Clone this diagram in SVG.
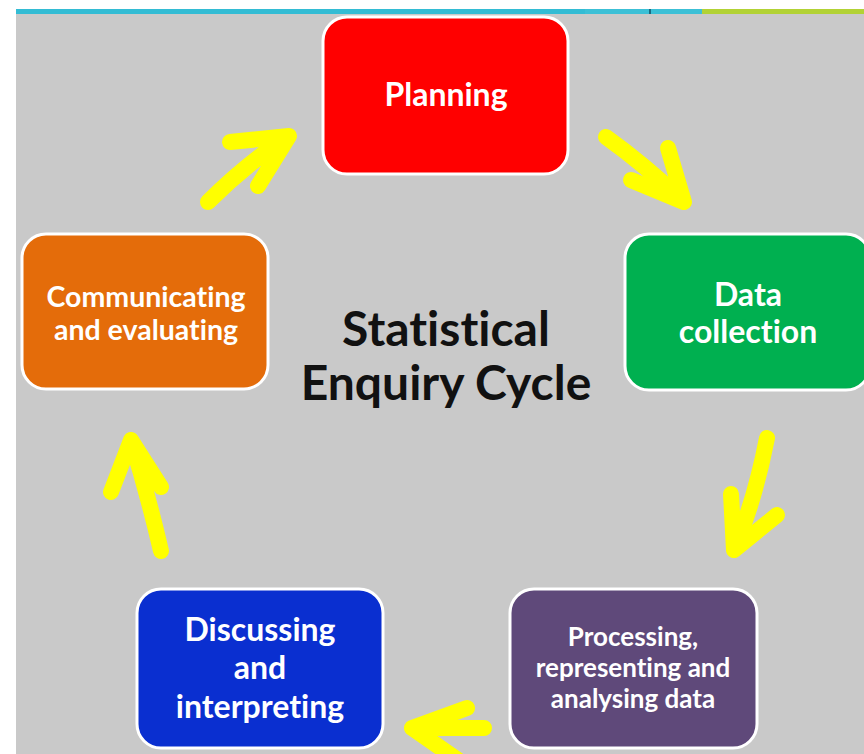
<svg xmlns="http://www.w3.org/2000/svg" width="864" height="754" viewBox="0 0 864 754">
<style>
.box{stroke:#ffffff;stroke-width:3}
.lbl{font-family:Lato,"Open Sans","Liberation Sans",sans-serif;font-weight:bold;fill:#ffffff;text-anchor:middle;font-variant-ligatures:none}
.title{font-family:Lato,"Open Sans","Liberation Sans",sans-serif;font-weight:bold;fill:#111111;text-anchor:middle;font-size:48px;font-variant-ligatures:none}
.arr{fill:none;stroke:#ffff00;stroke-width:16;stroke-linecap:round;stroke-linejoin:round}
</style>
<rect x="0" y="0" width="864" height="754" fill="#ffffff"/>
<rect x="16" y="13" width="848" height="741" fill="#c9c9c9"/>
<rect x="16" y="9" width="690" height="5" fill="#33bcd4"/>
<rect x="585" y="9" width="117" height="5" fill="#3cc0d6"/>
<rect x="702" y="9" width="162" height="5" fill="#b2d235"/>
<rect x="649" y="9" width="2" height="5" fill="#1a6a80"/>
<text class="title" x="446" y="346">Statistical</text>
<text class="title" x="446" y="400">Enquiry Cycle</text>
<g id="connectors">
<path class="arr" d="M208 202 Q245 165 287 137 M230 142 L289 136 L258 186"/>
<path class="arr" d="M606 137 Q645 165 684 202 M668 148 L684 202 L631 180"/>
<path class="arr" d="M767 438 Q755 500 734 550 M731 494 L734 550 L777 515"/>
<path class="arr" d="M484 728 L412 728 M467 708 L412 728 L458 760"/>
<path class="arr" d="M161 551 Q148 495 131 440 M111 492 L131 440 L161 487"/>
</g>
<g id="planning">
<rect class="box" x="323" y="17" width="245" height="157" rx="24" fill="#ff0000"/>
<text class="lbl" x="446" y="106" font-size="32">Planning</text>
</g>
<g id="data-collection">
<rect class="box" x="625" y="234" width="245" height="156" rx="24" fill="#00b050"/>
<text class="lbl" x="748" y="306" font-size="32">Data</text>
<text class="lbl" x="748" y="343" font-size="32">collection</text>
</g>
<g id="processing">
<rect class="box" x="510" y="589" width="247" height="159" rx="24" fill="#5f497a"/>
<text class="lbl" x="633" y="646" font-size="26">Processing,</text>
<text class="lbl" x="633" y="677" font-size="26">representing and</text>
<text class="lbl" x="633" y="708" font-size="26">analysing data</text>
</g>
<g id="discussing">
<rect class="box" x="137" y="589" width="246" height="159" rx="24" fill="#0a2fd0"/>
<text class="lbl" x="260" y="641" font-size="32">Discussing</text>
<text class="lbl" x="260" y="679" font-size="32">and</text>
<text class="lbl" x="260" y="718" font-size="32">interpreting</text>
</g>
<g id="communicating">
<rect class="box" x="22" y="234" width="246" height="155" rx="24" fill="#e46c0a"/>
<text class="lbl" x="146" y="307" font-size="28.5">Communicating</text>
<text class="lbl" x="146" y="340" font-size="28.5">and evaluating</text>
</g>
</svg>
